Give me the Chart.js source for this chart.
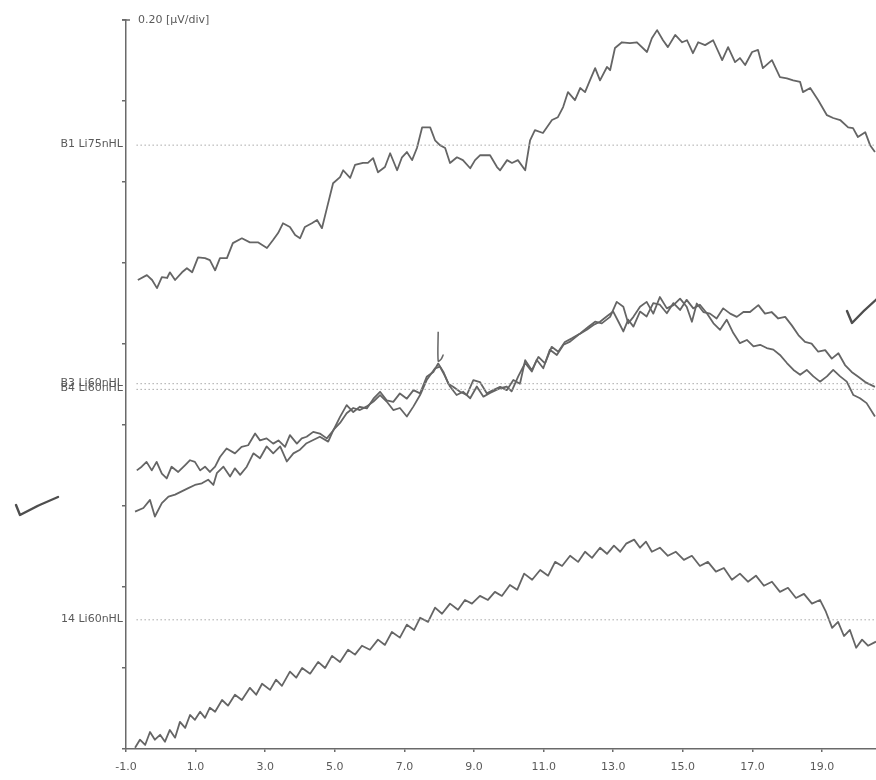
<!DOCTYPE html>
<html>
<head>
<meta charset="utf-8">
<script src="https://cdn.jsdelivr.net/npm/chart.js@4.4.1/dist/chart.umd.min.js"></script>
<style>
  html, body { margin: 0; padding: 0; background: #ffffff; }
  #wrap { width: 876px; height: 780px; position: relative; }
  canvas { display: block; filter: blur(0.35px); }
</style>
</head>
<body>
<div id="wrap"><canvas id="abr" width="876" height="780"></canvas></div>
<script>
// ABR recording: four averaged traces, latency in ms, amplitude in µV (0.20 µV per division)

const traceNames = ['B1 Li75nHL', 'B3 Li60nHL', 'B4 Li60nHL', '14 Li60nHL'];
const scaleLabel = '0.20 [µV/div]';
// baseline of each trace on the amplitude axis (µV)
const traceOffsets = [1.491, 0.902, 0.888, 0.319];

const xTickValues = [-1, 1, 3, 5, 7, 9, 11, 13, 15, 17, 19];
const xTickLabels = ['-1.0', '1.0', '3.0', '5.0', '7.0', '9.0', '11.0', '13.0', '15.0', '17.0', '19.0'];
const yDivisions = [0, 0.2, 0.4, 0.6, 0.8, 1.0, 1.2, 1.4, 1.6, 1.8];

// B1 Li75nHL
const b1Times = [
  -0.66, -0.40, -0.25, -0.11, 0.03, 0.18, 0.26, 0.41, 0.61, 0.75,
  0.90, 1.07, 1.27, 1.41, 1.56, 1.70, 1.90, 2.07, 2.33, 2.56,
  2.79, 3.05, 3.22, 3.37, 3.51, 3.71, 3.86, 4.00, 4.14, 4.34,
  4.49, 4.63, 4.78, 4.95, 5.15, 5.24, 5.44, 5.58, 5.81, 5.95,
  6.10, 6.24, 6.44, 6.59, 6.79, 6.93, 7.07, 7.22, 7.36, 7.51,
  7.74, 7.88, 8.02, 8.17, 8.31, 8.51, 8.68, 8.89, 9.03, 9.17,
  9.46, 9.66, 9.75, 9.95, 10.09, 10.26, 10.47, 10.61, 10.75, 10.98,
  11.24, 11.41, 11.56, 11.70, 11.90, 12.05, 12.19, 12.33, 12.48, 12.62,
  12.82, 12.91, 13.05, 13.25, 13.48, 13.68, 13.97, 14.11, 14.26, 14.43,
  14.57, 14.78, 14.98, 15.12, 15.29, 15.44, 15.64, 15.87, 16.13, 16.30,
  16.50, 16.64, 16.79, 16.99, 17.16, 17.30, 17.56, 17.79, 17.99, 18.17,
  18.37, 18.45, 18.66, 18.89, 19.14, 19.32, 19.52, 19.75, 19.89, 20.03,
  20.24, 20.38, 20.52
];
const b1Values = [
  -0.333, -0.321, -0.333, -0.353, -0.326, -0.328, -0.314, -0.333, -0.314, -0.304,
  -0.314, -0.277, -0.279, -0.284, -0.309, -0.279, -0.279, -0.242, -0.230, -0.240,
  -0.240, -0.254, -0.235, -0.217, -0.193, -0.202, -0.222, -0.230, -0.202, -0.193,
  -0.185, -0.205, -0.153, -0.094, -0.079, -0.062, -0.081, -0.049, -0.044, -0.044,
  -0.032, -0.067, -0.054, -0.020, -0.062, -0.030, -0.017, -0.037, -0.007, 0.044,
  0.044, 0.012, 0.000, -0.007, -0.044, -0.030, -0.037, -0.057, -0.037, -0.025,
  -0.025, -0.054, -0.062, -0.037, -0.044, -0.037, -0.062, 0.012, 0.037, 0.030,
  0.062, 0.069, 0.094, 0.131, 0.111, 0.141, 0.131, 0.160, 0.190, 0.160,
  0.193, 0.185, 0.240, 0.254, 0.252, 0.254, 0.230, 0.264, 0.284, 0.259,
  0.242, 0.272, 0.254, 0.259, 0.227, 0.254, 0.247, 0.259, 0.210, 0.242,
  0.205, 0.215, 0.198, 0.230, 0.235, 0.190, 0.210, 0.168, 0.165, 0.160,
  0.156, 0.131, 0.141, 0.111, 0.074, 0.067, 0.062, 0.044, 0.042, 0.020,
  0.032, 0.000, -0.017
];

// B3 Li60nHL
const b3Times = [
  -0.69, -0.55, -0.41, -0.26, -0.12, 0.03, 0.17, 0.31, 0.50, 0.70,
  0.84, 0.98, 1.13, 1.27, 1.41, 1.56, 1.70, 1.89, 2.13, 2.32,
  2.51, 2.71, 2.85, 3.04, 3.23, 3.38, 3.57, 3.71, 3.91, 4.05,
  4.19, 4.38, 4.57, 4.77, 4.96, 5.15, 5.34, 5.53, 5.72, 5.92,
  6.11, 6.30, 6.49, 6.68, 6.87, 7.07, 7.26, 7.45, 7.64, 7.83,
  7.97, 8.12, 8.26, 8.41, 8.60, 8.79, 8.98, 9.17, 9.37, 9.55,
  9.75, 9.94, 10.13, 10.32, 10.47, 10.66, 10.85, 11.04, 11.23, 11.42,
  11.61, 11.81, 12.05, 12.28, 12.48, 12.67, 12.91, 13.10, 13.29, 13.43,
  13.58, 13.77, 13.96, 14.15, 14.34, 14.54, 14.73, 14.92, 15.11, 15.26,
  15.40, 15.59, 15.78, 15.97, 16.16, 16.36, 16.55, 16.74, 16.93, 17.17,
  17.36, 17.55, 17.74, 17.94, 18.13, 18.32, 18.51, 18.70, 18.89, 19.09,
  19.28, 19.47, 19.66, 19.85, 20.04, 20.24, 20.52
];
const b3Values = [
  -0.214, -0.205, -0.193, -0.214, -0.193, -0.222, -0.234, -0.205, -0.218, -0.201,
  -0.189, -0.193, -0.214, -0.205, -0.218, -0.205, -0.181, -0.160, -0.172, -0.156,
  -0.152, -0.123, -0.140, -0.135, -0.148, -0.140, -0.156, -0.127, -0.148, -0.135,
  -0.131, -0.119, -0.123, -0.135, -0.115, -0.082, -0.053, -0.070, -0.057, -0.061,
  -0.037, -0.020, -0.041, -0.045, -0.024, -0.037, -0.016, -0.024, 0.017, 0.029,
  0.050, 0.029, 0.000, -0.008, -0.020, -0.028, 0.009, 0.004, -0.024, -0.016,
  -0.008, -0.016, 0.009, 0.000, 0.058, 0.033, 0.066, 0.050, 0.091, 0.079,
  0.103, 0.112, 0.124, 0.140, 0.153, 0.149, 0.165, 0.202, 0.190, 0.149,
  0.165, 0.190, 0.202, 0.173, 0.214, 0.186, 0.194, 0.210, 0.190, 0.153,
  0.198, 0.177, 0.173, 0.161, 0.186, 0.173, 0.165, 0.177, 0.177, 0.194,
  0.173, 0.177, 0.161, 0.165, 0.144, 0.120, 0.103, 0.099, 0.079, 0.083,
  0.062, 0.075, 0.046, 0.029, 0.017, 0.004, -0.008
];

// B4 Li60nHL
const b4Times = [
  -0.74, -0.50, -0.31, -0.17, 0.03, 0.22, 0.41, 0.60, 0.79, 0.98,
  1.18, 1.36, 1.51, 1.61, 1.80, 1.99, 2.13, 2.28, 2.47, 2.66,
  2.85, 3.04, 3.23, 3.43, 3.62, 3.81, 4.00, 4.19, 4.38, 4.57,
  4.81, 4.96, 5.15, 5.34, 5.53, 5.72, 5.92, 6.11, 6.30, 6.49,
  6.68, 6.87, 7.07, 7.26, 7.45, 7.64, 7.88, 8.02, 8.17, 8.31,
  8.50, 8.69, 8.89, 9.08, 9.27, 9.46, 9.75, 9.94, 10.08, 10.27,
  10.47, 10.66, 10.80, 10.99, 11.18, 11.38, 11.57, 11.76, 12.00, 12.24,
  12.43, 12.62, 12.81, 13.00, 13.15, 13.29, 13.43, 13.58, 13.77, 13.96,
  14.15, 14.34, 14.54, 14.73, 14.92, 15.11, 15.30, 15.49, 15.69, 15.88,
  16.07, 16.26, 16.45, 16.64, 16.84, 17.03, 17.22, 17.41, 17.60, 17.79,
  17.99, 18.18, 18.37, 18.56, 18.75, 18.94, 19.14, 19.32, 19.52, 19.71,
  19.90, 20.09, 20.28, 20.52
];
const b4Values = [
  -0.302, -0.293, -0.273, -0.314, -0.281, -0.265, -0.260, -0.252, -0.244, -0.236,
  -0.232, -0.223, -0.236, -0.207, -0.191, -0.215, -0.195, -0.211, -0.191, -0.158,
  -0.170, -0.141, -0.158, -0.141, -0.178, -0.158, -0.149, -0.133, -0.125, -0.117,
  -0.129, -0.100, -0.083, -0.059, -0.046, -0.051, -0.042, -0.030, -0.014, -0.030,
  -0.051, -0.046, -0.067, -0.042, -0.014, 0.023, 0.052, 0.056, 0.032, 0.007,
  -0.014, -0.006, -0.022, 0.007, -0.018, -0.009, 0.003, 0.007, -0.005, 0.032,
  0.065, 0.044, 0.073, 0.052, 0.098, 0.085, 0.110, 0.118, 0.135, 0.147,
  0.159, 0.167, 0.180, 0.192, 0.167, 0.143, 0.172, 0.155, 0.192, 0.180,
  0.213, 0.209, 0.188, 0.213, 0.196, 0.221, 0.200, 0.209, 0.188, 0.163,
  0.147, 0.172, 0.139, 0.114, 0.122, 0.106, 0.110, 0.102, 0.098, 0.085,
  0.065, 0.048, 0.036, 0.048, 0.032, 0.019, 0.032, 0.048, 0.032, 0.019,
  -0.014, -0.022, -0.034, -0.067
];

// 14 Li60nHL
const i4Times = [
  -0.74, -0.60, -0.45, -0.31, -0.17, -0.02, 0.12, 0.26, 0.41, 0.55,
  0.70, 0.84, 0.98, 1.13, 1.27, 1.41, 1.56, 1.76, 1.93, 2.13,
  2.33, 2.56, 2.74, 2.91, 3.14, 3.31, 3.48, 3.71, 3.89, 4.06,
  4.29, 4.52, 4.72, 4.92, 5.15, 5.38, 5.58, 5.78, 6.01, 6.24,
  6.44, 6.64, 6.87, 7.07, 7.28, 7.45, 7.68, 7.88, 8.08, 8.31,
  8.54, 8.74, 8.94, 9.17, 9.40, 9.60, 9.80, 10.03, 10.24, 10.44,
  10.67, 10.90, 11.13, 11.33, 11.53, 11.76, 11.99, 12.19, 12.39, 12.62,
  12.82, 13.02, 13.20, 13.37, 13.60, 13.77, 13.94, 14.11, 14.34, 14.57,
  14.80, 15.03, 15.26, 15.49, 15.72, 15.95, 16.18, 16.41, 16.64, 16.87,
  17.10, 17.33, 17.56, 17.79, 18.02, 18.25, 18.48, 18.71, 18.94, 19.11,
  19.29, 19.46, 19.63, 19.80, 19.98, 20.15, 20.32, 20.55
];
const i4Values = [
  -0.316, -0.296, -0.309, -0.277, -0.296, -0.284, -0.301, -0.272, -0.291, -0.252,
  -0.267, -0.235, -0.247, -0.227, -0.242, -0.217, -0.227, -0.198, -0.212, -0.185,
  -0.198, -0.168, -0.185, -0.158, -0.173, -0.148, -0.163, -0.128, -0.143, -0.119,
  -0.133, -0.104, -0.119, -0.089, -0.104, -0.074, -0.086, -0.064, -0.074, -0.049,
  -0.062, -0.030, -0.044, -0.012, -0.025, 0.005, -0.005, 0.030, 0.015, 0.040,
  0.025, 0.049, 0.040, 0.059, 0.049, 0.069, 0.059, 0.086, 0.074, 0.114,
  0.099, 0.123, 0.109, 0.143, 0.133, 0.158, 0.143, 0.168, 0.153, 0.178,
  0.163, 0.183, 0.168, 0.188, 0.198, 0.178, 0.193, 0.168, 0.178, 0.158,
  0.168, 0.148, 0.158, 0.133, 0.143, 0.119, 0.128, 0.099, 0.114, 0.094,
  0.109, 0.084, 0.094, 0.069, 0.079, 0.054, 0.064, 0.040, 0.049, 0.020,
  -0.020, -0.005, -0.040, -0.025, -0.069, -0.049, -0.064, -0.054
];

// wave V cursor placed on the B3 trace
const cursorTimes = [7.97, 7.97, 8.05, 8.12];
const cursorValues = [0.128, 0.056, 0.060, 0.072];

const baselineSpan = [-0.7, 20.55];

const traceTimes = [b1Times, b3Times, b4Times, i4Times];
const traceValues = [b1Values, b3Values, b4Values, i4Values];

const TRACE_COLOR = '#656565';
const TEXT_COLOR = '#5a5a5a';

function shifted(times, values, offset) {
  return times.map((t, i) => ({ x: t, y: offset + values[i] }));
}

const datasets = [];
traceOffsets.forEach((off) => {
  datasets.push({
    data: baselineSpan.map((t) => ({ x: t, y: off })),
    borderColor: '#a8a8a8',
    borderWidth: 1,
    borderDash: [1.5, 2.5],
    pointRadius: 0
  });
});
traceTimes.forEach((times, i) => {
  datasets.push({
    label: traceNames[i],
    data: shifted(times, traceValues[i], traceOffsets[i]),
    borderColor: TRACE_COLOR,
    borderWidth: 1.8,
    pointRadius: 0,
    tension: 0,
    borderJoinStyle: 'round'
  });
});
datasets.push({
  data: shifted(cursorTimes, cursorValues, traceOffsets[1]),
  borderColor: TRACE_COLOR,
  borderWidth: 1.5,
  pointRadius: 0,
  tension: 0.3
});

// trace names, scale note and hand check marks
const annotations = {
  id: 'abrAnnotations',
  afterDraw(chart) {
    const { ctx, chartArea, scales } = chart;
    const y = scales.y;
    ctx.save();
    ctx.font = '11px "DejaVu Sans", sans-serif';
    ctx.fillStyle = TEXT_COLOR;
    ctx.textAlign = 'right';
    ctx.textBaseline = 'middle';
    traceNames.forEach((name, i) => {
      ctx.fillText(name, chartArea.left - 3, y.getPixelForValue(traceOffsets[i]) - 1);
    });
    ctx.textAlign = 'left';
    ctx.fillText(scaleLabel, chartArea.left + 12, chartArea.top);

    // small cap on top of the amplitude axis
    ctx.strokeStyle = '#6a6a6a';
    ctx.lineWidth = 1.5;
    ctx.beginPath();
    ctx.moveTo(chartArea.left - 4, chartArea.top);
    ctx.lineTo(chartArea.left + 4, chartArea.top);
    ctx.stroke();

    // hand check marks
    ctx.strokeStyle = '#4e4e4e';
    ctx.lineWidth = 2.4;
    ctx.lineCap = 'round';
    ctx.lineJoin = 'round';
    ctx.beginPath();
    ctx.moveTo(16, 505);
    ctx.lineTo(20, 515);
    ctx.quadraticCurveTo(38, 505, 58, 497);
    ctx.stroke();
    ctx.beginPath();
    ctx.moveTo(847, 311);
    ctx.lineTo(852, 323);
    ctx.quadraticCurveTo(864, 310, 878, 298);
    ctx.stroke();
    ctx.restore();
  }
};

Chart.defaults.font.family = '"DejaVu Sans", sans-serif';
Chart.defaults.color = TEXT_COLOR;

new Chart(document.getElementById('abr'), {
  type: 'line',
  data: { datasets },
  options: {
    responsive: false,
    animation: false,
    devicePixelRatio: 1,
    layout: { padding: { left: 0, right: 0, top: 20, bottom: 0 } },
    plugins: { legend: { display: false }, tooltip: { enabled: false } },
    elements: { line: { fill: false } },
    scales: {
      x: {
        type: 'linear',
        min: -1,
        max: 20.55,
        afterBuildTicks: (scale) => { scale.ticks = xTickValues.map((v) => ({ value: v })); },
        afterFit: (scale) => { scale.height = 31; },
        ticks: {
          autoSkip: false,
          maxRotation: 0,
          padding: 9,
          font: { size: 11 },
          color: TEXT_COLOR,
          callback: (value, index) => xTickLabels[index]
        },
        grid: { drawOnChartArea: false, drawTicks: true, tickLength: 3, color: '#6a6a6a', lineWidth: 1.5 },
        border: { display: true, color: '#6a6a6a', width: 1.5 }
      },
      y: {
        type: 'linear',
        min: 0,
        max: 1.8,
        afterBuildTicks: (scale) => { scale.ticks = yDivisions.map((v) => ({ value: v })); },
        afterFit: (scale) => { scale.width = 126; },
        ticks: { display: false },
        grid: { drawOnChartArea: false, drawTicks: true, tickLength: 4, color: '#6a6a6a', lineWidth: 1.5 },
        border: { display: true, color: '#6a6a6a', width: 1.5 }
      }
    }
  },
  plugins: [annotations]
});
</script>
</body>
</html>
